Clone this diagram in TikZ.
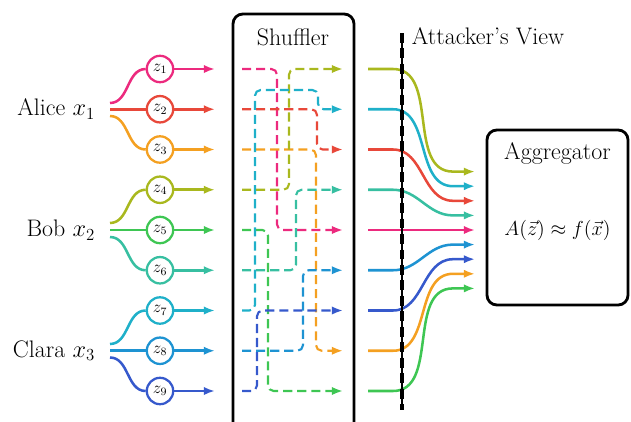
\documentclass[tikz,border=0pt]{standalone}
\usepackage{amsmath,amssymb}
\usepackage{tikz}
\usetikzlibrary{arrows.meta}

\definecolor{zpink}{HTML}{EC2A7E}
\definecolor{zred}{HTML}{E8483A}
\definecolor{zorange}{HTML}{F4A021}
\definecolor{zolive}{HTML}{A9B81E}
\definecolor{zgreen}{HTML}{3EC653}
\definecolor{zteal}{HTML}{37BFA1}
\definecolor{zcyan}{HTML}{1FB0C9}
\definecolor{zblue}{HTML}{1E93D2}
\definecolor{znavy}{HTML}{3659CC}

\tikzset{
  zcirc/.style={circle, draw, line width=1.6pt, fill=white, minimum size=0.66cm,
                inner sep=0pt, font=\fontsize{12}{14}\selectfont},
  zline/.style={line width=1.8pt},
  shline/.style={line width=1.5pt, dash pattern=on 6.5pt off 3.5pt, rounded corners=4pt},
  who/.style={anchor=east, font=\fontsize{17}{20}\selectfont},
  lbl/.style={font=\fontsize{17}{20}\selectfont},
  box/.style={draw, line width=2pt, rounded corners=7pt},
}

\begin{document}
\begin{tikzpicture}[x=0.025cm, y=-0.025cm, >={Latex[length=8pt,width=6pt]}]
    \useasboundingbox (0,0) rectangle (631,421);

    % Rows
    \foreach \i in {1,...,9}{
      \coordinate (a\i) at (215, {69+40.25*(\i-1)});
      \coordinate (s\i) at (242, {69+40.25*(\i-1)});
      \coordinate (t\i) at (343, {69+40.25*(\i-1)});
      \coordinate (o\i) at (368, {69+40.25*(\i-1)});
      \coordinate (p\i) at (393, {69+40.25*(\i-1)});
      \coordinate (q\i) at (453, {230+14.6*(\i-5)});
      \coordinate (e\i) at (475, {230+14.6*(\i-5)});
    }

    % Users
    \node[who] (alice) at (100,109.25) {Alice $x_1$};
    \node[who] (bob) at (100,230) {Bob $x_2$};
    \node[who] (clara) at (100,350.75) {Clara $x_3$};
    \coordinate (A1) at (110,103); \coordinate (A2) at (110,109.25); \coordinate (A3) at (110,116);
    \coordinate (B1) at (110,223); \coordinate (B2) at (110,230); \coordinate (B3) at (110,237);
    \coordinate (C1) at (110,344); \coordinate (C2) at (110,350.75); \coordinate (C3) at (110,357.5);

    % Messages
    \foreach \i/\c in {1/zpink,2/zred,3/zorange,4/zolive,5/zgreen,6/zteal,7/zcyan,8/zblue,9/znavy}{
      \node[zcirc, draw=\c] (z\i) at (160, {69+40.25*(\i-1)}) {$z_{\i}$};
      \draw[zline, \c, ->] (z\i) -- (a\i);
    }
    \draw[zline, zpink] (A1) to[out=0, in=180] (z1);
    \draw[zline, zred] (A2) -- (z2);
    \draw[zline, zorange] (A3) to[out=0, in=180] (z3);
    \draw[zline, zolive] (B1) to[out=0, in=180] (z4);
    \draw[zline, zgreen] (B2) -- (z5);
    \draw[zline, zteal] (B3) to[out=0, in=180] (z6);
    \draw[zline, zcyan] (C1) to[out=0, in=180] (z7);
    \draw[zline, zblue] (C2) -- (z8);
    \draw[zline, znavy] (C3) to[out=0, in=180] (z9);

    % Shuffler
    \draw[box] (233,14) rectangle (354,450);
    \node[lbl] (shuf) at (293,37) {Shuffler};
    \draw[shline, zpink, ->] (s1) -| (277,230) -- (t5);
    \draw[shline, zred, ->] (s2) -| (317,149.5) -- (t3);
    \draw[shline, zorange, ->] (s3) -| (316,350.75) -- (t8);
    \draw[shline, zolive, ->] (s4) -| (289,69) -- (t1);
    \draw[shline, zgreen, ->] (s5) -| (268,391) -- (t9);
    \draw[shline, zteal, ->] (s6) -| (296,189.75) -- (t4);
    \draw[shline, zcyan, ->] (s7) -| (255,90) -| (318,109.25) -- (t2);
    \draw[shline, zblue, ->] (s8) -| (303,270.25) -- (t6);
    \draw[shline, znavy, ->] (s9) -| (257,310.5) -- (t7);

    % To the aggregator
    \foreach \i/\c in {1/zolive,2/zcyan,3/zred,4/zteal,5/zpink,6/zblue,7/znavy,8/zorange,9/zgreen}{
      \draw[zline, \c, ->] (o\i) -- (p\i) to[out=0, in=180] (q\i) -- (e\i);
    }

    % Attacker's view
    \coordinate (vtop) at (402,33);
    \coordinate (vbot) at (402,410);
    \draw[line width=1pt] (vtop) -- (vbot);
    \draw[line width=3pt, dash pattern=on 7pt off 4pt] (vtop) -- (vbot);
    \node[lbl, anchor=west] (view) at (407,36) {Attacker's View};

    % Aggregator
    \draw[box] (487,130) rectangle (628,305);
    \node[lbl] (aggt) at (557.5,153) {Aggregator};
    \node[font=\fontsize{14.5}{17}\selectfont] (form) at (557.5,230) {$A(\vec{z}) \approx f(\vec{x})$};
\end{tikzpicture}
\end{document}
